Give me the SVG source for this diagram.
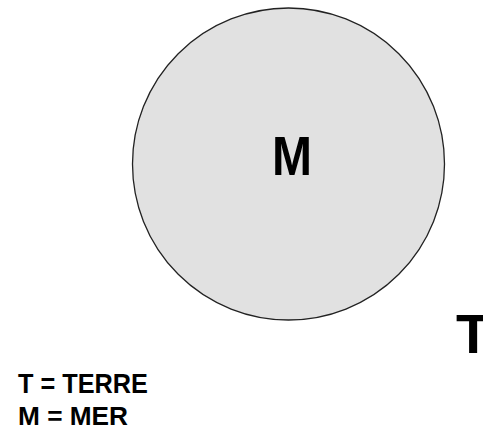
<svg xmlns="http://www.w3.org/2000/svg" width="483" height="427" viewBox="0 0 483 427">
<style>
.lbl{font-family:"Liberation Sans",Arial,sans-serif;font-weight:bold;fill:#000}
</style>
<rect width="483" height="427" fill="#fff"/>
<g id="mer">
<circle cx="288.5" cy="164" r="156" fill="#e1e1e1" stroke="#222" stroke-width="1.3"/>
<text class="lbl" x="272" y="175" font-size="56" textLength="40" lengthAdjust="spacingAndGlyphs">M</text>
</g>
<g id="terre">
<text class="lbl" x="456" y="353" font-size="56">T</text>
</g>
<g id="legende">
<text class="lbl" x="18" y="393" font-size="28" textLength="130" lengthAdjust="spacingAndGlyphs">T = TERRE</text>
<text class="lbl" x="18" y="425" font-size="26" textLength="110" lengthAdjust="spacingAndGlyphs">M = MER</text>
</g>
</svg>
